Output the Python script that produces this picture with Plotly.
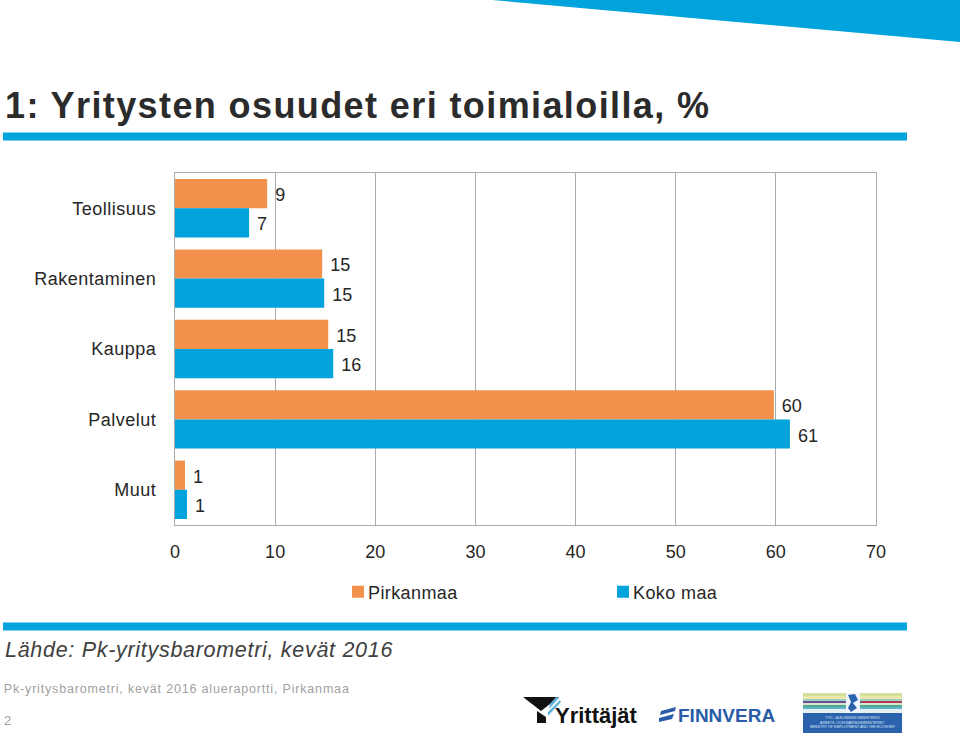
import plotly.graph_objects as go

categories = ["Teollisuus", "Rakentaminen", "Kauppa", "Palvelut", "Muut"]
pirkanmaa = [9.2, 14.7, 15.3, 59.8, 1.0]
koko_maa = [7.4, 14.9, 15.8, 61.4, 1.2]
pirkanmaa_labels = ["9", "15", "15", "60", "1"]
koko_maa_labels = ["7", "15", "16", "61", "1"]
x_ticks = [0, 10, 20, 30, 40, 50, 60, 70]

W, H = 960, 738
ORANGE = "#F2914C"
BLUE = "#00A3DB"
GRID = "#ABABAB"
FONT = "Liberation Sans"


def px(v):
    return v / W


def py(v):
    return 1 - v / H


fig = go.Figure()
for name, vals, labels, col in [
    ("Pirkanmaa", pirkanmaa, pirkanmaa_labels, ORANGE),
    ("Koko maa", koko_maa, koko_maa_labels, BLUE),
]:
    fig.add_trace(go.Bar(
        y=categories, x=vals, name=name, orientation="h",
        marker=dict(color=col, line_width=0),
        text=[" " + t for t in labels], textposition="outside",
        textfont=dict(family=FONT, size=18, color="#262626"),
        cliponaxis=False,
    ))

shapes = []


def rect(x0, y0, x1, y1, color):
    shapes.append(dict(type="rect", xref="paper", yref="paper", layer="above",
                       x0=px(x0), x1=px(x1), y0=py(y1), y1=py(y0),
                       fillcolor=color, line_width=0))


def poly(points, color):
    path = "M " + " L ".join(f"{px(a):.5f},{py(b):.5f}" for a, b in points) + " Z"
    shapes.append(dict(type="path", xref="paper", yref="paper", layer="above",
                       path=path, fillcolor=color, line_width=0))


poly([(492, 0), (960, 0), (960, 42)], BLUE)
rect(3, 132.5, 907, 140.5, BLUE)
rect(3, 622.5, 907, 630.5, BLUE)

# Yrittäjät logo mark
poly([(523, 697), (559, 697), (541, 711)], "#111111")
poly([(537, 711), (546, 717), (546, 723), (537, 723)], "#111111")
poly([(550, 704), (556, 697), (559, 698), (549, 709)], "#5FB4D9")
poly([(548, 712), (560, 700), (561, 702), (548, 716)], "#5FB4D9")
# Finnvera mark
poly([(661, 711), (676, 707), (675, 711), (660, 715)], "#2A5CA8")
poly([(659, 718), (674, 714), (672, 719), (659, 722)], "#2A5CA8")
# Ministry logo
for y0, y1, c in [(693, 696, "#D5DE9B"), (696, 699, "#E9E7A9"), (699, 701, "#9FCFC0"),
                  (701, 703, "#6A4F96"), (703, 705, "#D8E4C8"), (705, 707, "#4FA98E"),
                  (707, 709, "#5FB3CF"), (709, 713, "#E6EFF2")]:
    rect(803, y0, 902, y1, c)
rect(862, 701, 902, 703, "#B23A5A")
rect(803, 713, 902, 733, "#2A62AE")
rect(846, 693, 860, 713, "#F2F5FA")
poly([(848, 695), (855, 694), (858, 700), (853, 703), (857, 708), (851, 712), (848, 708), (851, 702)], "#2A62AE")


def note(cx, y, text, size, color):
    return dict(xref="paper", yref="paper", x=px(cx), y=py(y), text=text, showarrow=False,
                xanchor="center", yanchor="middle",
                font=dict(family=FONT, size=size, color=color))


annotations = [
    note(357.5, 105, "<b>1: Yritysten osuudet eri toimialoilla, %</b>", 36, "#2B2B2B"),
    note(198.5, 650, "<i>Lähde: Pk-yritysbarometri, kevät 2016</i>", 21.5, "#404040"),
    note(177, 689, "Pk-yritysbarometri, kevät 2016 alueraportti, Pirkanmaa", 12.5, "#A0A0A0"),
    note(7, 720, "2", 13, "#A0A0A0"),
    note(596, 715, "<b>Yrittäjät</b>", 22, "#111111"),
    note(726.5, 715, "<b>FINNVERA</b>", 19, "#2A5CA8"),
    note(852.5, 718, "TYÖ- JA ELINKEINOMINISTERIÖ", 3.6, "#DCE6F4"),
    note(852.5, 722.5, "ARBETS- OCH NÄRINGSMINISTERIET", 3.6, "#DCE6F4"),
    note(852.5, 727, "MINISTRY OF EMPLOYMENT AND THE ECONOMY", 3.6, "#DCE6F4"),
]

fig.update_layout(
    width=W, height=H, autosize=False,
    margin=dict(l=0, r=0, t=0, b=0, autoexpand=False),
    paper_bgcolor="white", plot_bgcolor="white",
    barmode="group", bargap=0.17, bargroupgap=0,
    font=dict(family=FONT, size=18, color="#262626"),
    showlegend=True,
    legend=dict(orientation="h", xref="paper", yref="paper", x=px(338), y=py(592),
                xanchor="left", yanchor="middle", entrywidth=220, entrywidthmode="pixels",
                traceorder="normal", font=dict(family=FONT, size=18, color="#262626"),
                itemwidth=30, bgcolor="rgba(0,0,0,0)"),
    xaxis=dict(domain=[px(175), px(876)], range=[0, 70], tickvals=x_ticks,
               showgrid=True, gridcolor=GRID, gridwidth=1.2, zeroline=False,
               showline=True, linecolor=GRID, linewidth=1.2, mirror=True,
               ticks="", ticklabelstandoff=10,
               tickfont=dict(family=FONT, size=18, color="#262626")),
    yaxis=dict(domain=[py(525), py(173)], autorange="reversed", ticks="",
               showline=True, linecolor=GRID, linewidth=1.2, mirror=True,
               ticklabelstandoff=14, tickfont=dict(family=FONT, size=18, color="#262626")),
    shapes=shapes, annotations=annotations,
)

post = """
document.body.style.margin='0';
const sp=(sel,v)=>document.querySelectorAll(sel).forEach(t=>{t.style.letterSpacing=v;});
sp('.annotation[data-index="0"] text','1.4px');
sp('.annotation[data-index="1"] text','0.7px');
sp('.annotation[data-index="2"] text','0.82px');
sp('.ytick text','0.5px');
sp('.legendtext','0.4px');
document.querySelectorAll('.legendtext').forEach(t=>{t.setAttribute('x',parseFloat(t.getAttribute('x'))-10);});
document.querySelectorAll('.bartext').forEach(t=>{t.setAttribute('dy','1.5');});
"""
fig.write_html("out.html", post_script=post, config={"displayModeBar": False})
